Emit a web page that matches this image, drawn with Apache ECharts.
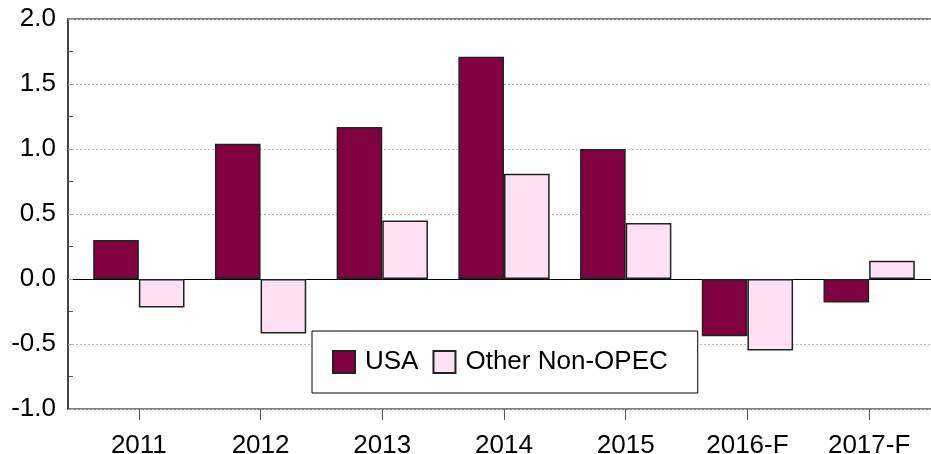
<!DOCTYPE html>
<html>
<head>
<meta charset="utf-8">
<script src="https://cdn.jsdelivr.net/npm/echarts@6/dist/echarts.min.js"></script>
<style>
  html, body { margin: 0; padding: 0; background: #fff; }
  #main { width: 931px; height: 454px; }
</style>
</head>
<body>
<div id="main"></div>
<script>
// data
var years = ['2011', '2012', '2013', '2014', '2015', '2016-F', '2017-F'];
var usa = [0.30, 1.04, 1.17, 1.71, 1.00, -0.44, -0.18];
var otherNonOpec = [-0.22, -0.42, 0.45, 0.81, 0.43, -0.55, 0.14];

var font = "'Liberation Sans', Arial, sans-serif";

var myChart = echarts.init(document.getElementById('main'), null, { renderer: 'canvas' });

myChart.setOption({
  animation: false,
  textStyle: { fontFamily: font },
  grid: [
    // frame + value axis
    { left: 68, top: 19, right: -2, bottom: 45, show: true, borderColor: '#000', borderWidth: 1,
      backgroundColor: 'transparent', outerBoundsMode: 'none', containLabel: false },
    // bars sit a bit inside the frame
    { left: 78, top: 19, right: 1, bottom: 45, outerBoundsMode: 'none', containLabel: false }
  ],
  xAxis: [
    {
      gridIndex: 0, type: 'value', min: 0, max: 1,
      axisLine: { show: true, onZero: true, lineStyle: { color: '#000', width: 1 } },
      axisTick: { show: false }, axisLabel: { show: false }, splitLine: { show: false }
    },
    {
      gridIndex: 1, type: 'category', data: years,
      axisLine: { show: false, onZero: false },
      axisTick: { show: true, alignWithLabel: true, inside: false, length: 11, lineStyle: { color: '#555', width: 1 } },
      axisLabel: { fontSize: 26, color: '#000', margin: 24, fontFamily: font },
      splitLine: { show: false }
    }
  ],
  yAxis: [
    {
      gridIndex: 0, type: 'value', min: -1, max: 2, interval: 0.5,
      axisLine: { show: true, lineStyle: { color: '#444', width: 2 } },
      axisTick: { show: true, inside: true, length: 5, lineStyle: { color: '#aaa' } },
      minorTick: { show: true, splitNumber: 2, length: 5, lineStyle: { color: '#555' } },
      axisLabel: { fontSize: 26, color: '#000', margin: 12, fontFamily: font,
        formatter: function (v) { return v.toFixed(1); } },
      splitLine: { show: true, lineStyle: { color: '#bbb', type: [2, 2], width: 1 } }
    },
    {
      gridIndex: 1, type: 'value', min: -1, max: 2, interval: 0.5,
      axisLine: { show: false }, axisTick: { show: false }, axisLabel: { show: false }, splitLine: { show: false }
    }
  ],
  legend: {
    left: 312, top: 331,
    orient: 'horizontal',
    backgroundColor: '#fff',
    borderColor: '#000', borderWidth: 1,
    padding: [18, 30, 18, 20],
    itemWidth: 22, itemHeight: 22, itemGap: 14,
    icon: 'rect',
    textStyle: { fontSize: 26, color: '#000', fontFamily: font, padding: [0, 0, 0, 5] },
    data: ['USA', 'Other Non-OPEC']
  },
  series: [
    {
      name: 'USA', type: 'bar', xAxisIndex: 1, yAxisIndex: 1,
      data: usa,
      barGap: '0%', barCategoryGap: '25%',
      itemStyle: { color: '#800040', borderColor: '#222', borderWidth: 1.5 }
    },
    {
      name: 'Other Non-OPEC', type: 'bar', xAxisIndex: 1, yAxisIndex: 1,
      data: otherNonOpec,
      barGap: '0%', barCategoryGap: '25%',
      itemStyle: { color: '#ffe0f4', borderColor: '#222', borderWidth: 1.5 }
    }
  ]
});
</script>
</body>
</html>
